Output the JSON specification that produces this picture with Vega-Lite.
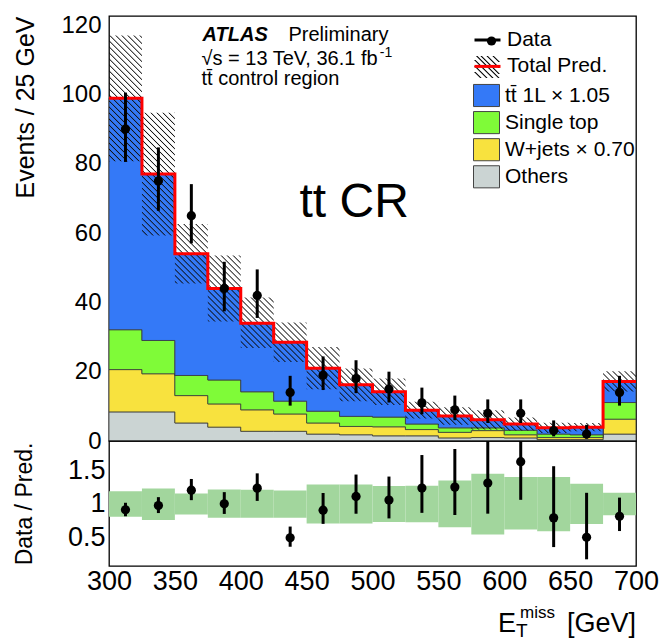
{
  "$schema": "https://vega.github.io/schema/vega-lite/v6.json",
  "background": "white",
  "padding": {"left": 12, "top": 12, "right": 10, "bottom": 4},
  "spacing": 0,
  "bounds": "flush",
  "config": {
    "font": "Liberation Sans",
    "view": {"stroke": "#000", "strokeWidth": 1.3},
    "axis": {
      "domain": false, "ticks": false, "tickSize": 0, "grid": false, "zindex": 1,
      "labelColor": "#000", "titleColor": "#000", "labelFont": "Liberation Sans", "titleFont": "Liberation Sans",
      "titleFontWeight": "normal", "labelFlush": false, "labelOverlap": false, "labelBound": false
    },
    "legend": {"labelFont": "Liberation Sans", "labelColor": "#000", "labelFontSize": 21, "padding": 0, "orient": "none"}
  },
  "resolve": {"scale": {"fill": "independent", "stroke": "independent", "shape": "independent", "opacity": "independent"}},
  "datasets": {
    "bins": [
      {"lo": 300, "hi": 325, "mid": 312.5, "others": 8.4, "wjets": 12.2, "single": 11.5, "ttbar": 66.8, "ulo": 80.7, "uhi": 117.0, "n": 90, "nlo": 80.5, "nhi": 100.5, "r": 0.91, "rlo": 0.814, "rhi": 1.016, "blo": 0.805, "bhi": 1.19},
      {"lo": 325, "hi": 350, "mid": 337.5, "others": 8.4, "wjets": 11.0, "single": 9.6, "ttbar": 48.0, "ulo": 59.3, "uhi": 94.7, "n": 75, "nlo": 66.4, "nhi": 84.7, "r": 0.974, "rlo": 0.862, "rhi": 1.1, "blo": 0.76, "bhi": 1.23},
      {"lo": 350, "hi": 375, "mid": 362.5, "others": 5.2, "wjets": 7.9, "single": 5.8, "ttbar": 35.1, "ulo": 45.4, "uhi": 62.6, "n": 65, "nlo": 57.0, "nhi": 74.1, "r": 1.204, "rlo": 1.055, "rhi": 1.372, "blo": 0.84, "bhi": 1.155},
      {"lo": 375, "hi": 400, "mid": 387.5, "others": 4.0, "wjets": 6.7, "single": 6.9, "ttbar": 26.4, "ulo": 34.5, "uhi": 53.5, "n": 44, "nlo": 37.4, "nhi": 51.7, "r": 1.0, "rlo": 0.849, "rhi": 1.175, "blo": 0.79, "bhi": 1.215},
      {"lo": 400, "hi": 425, "mid": 412.5, "others": 2.8, "wjets": 6.2, "single": 5.2, "ttbar": 19.8, "ulo": 26.8, "uhi": 41.4, "n": 42, "nlo": 35.5, "nhi": 49.5, "r": 1.235, "rlo": 1.044, "rhi": 1.456, "blo": 0.79, "bhi": 1.21},
      {"lo": 425, "hi": 450, "mid": 437.5, "others": 2.8, "wjets": 5.0, "single": 3.7, "ttbar": 17.0, "ulo": 22.8, "uhi": 34.2, "n": 14, "nlo": 10.2, "nhi": 18.8, "r": 0.491, "rlo": 0.358, "rhi": 0.66, "blo": 0.79, "bhi": 1.2},
      {"lo": 450, "hi": 475, "mid": 462.5, "others": 2.0, "wjets": 3.2, "single": 3.4, "ttbar": 12.4, "ulo": 14.9, "uhi": 27.1, "n": 19, "nlo": 14.7, "nhi": 24.4, "r": 0.905, "rlo": 0.7, "rhi": 1.162, "blo": 0.705, "bhi": 1.29},
      {"lo": 475, "hi": 500, "mid": 487.5, "others": 1.8, "wjets": 2.4, "single": 2.9, "ttbar": 9.1, "ulo": 11.5, "uhi": 20.9, "n": 18, "nlo": 13.8, "nhi": 23.3, "r": 1.111, "rlo": 0.852, "rhi": 1.438, "blo": 0.705, "bhi": 1.29},
      {"lo": 500, "hi": 525, "mid": 512.5, "others": 1.5, "wjets": 2.6, "single": 2.8, "ttbar": 7.3, "ulo": 10.4, "uhi": 18.0, "n": 15, "nlo": 11.1, "nhi": 20.0, "r": 1.056, "rlo": 0.782, "rhi": 1.408, "blo": 0.73, "bhi": 1.265},
      {"lo": 525, "hi": 550, "mid": 537.5, "others": 1.5, "wjets": 1.8, "single": 1.6, "ttbar": 4.0, "ulo": 6.5, "uhi": 11.3, "n": 11, "nlo": 7.7, "nhi": 15.4, "r": 1.236, "rlo": 0.865, "rhi": 1.73, "blo": 0.725, "bhi": 1.27},
      {"lo": 550, "hi": 575, "mid": 562.5, "others": 0.9, "wjets": 1.6, "single": 1.3, "ttbar": 3.4, "ulo": 4.7, "uhi": 9.7, "n": 9, "nlo": 6.0, "nhi": 13.1, "r": 1.25, "rlo": 0.833, "rhi": 1.82, "blo": 0.65, "bhi": 1.35},
      {"lo": 575, "hi": 600, "mid": 587.5, "others": 1.0, "wjets": 2.0, "single": 0.8, "ttbar": 2.3, "ulo": 3.3, "uhi": 8.9, "n": 8, "nlo": 5.2, "nhi": 12.0, "r": 1.31, "rlo": 0.853, "rhi": 1.97, "blo": 0.54, "bhi": 1.45},
      {"lo": 600, "hi": 625, "mid": 612.5, "others": 0.9, "wjets": 0.9, "single": 1.3, "ttbar": 1.8, "ulo": 3.0, "uhi": 6.8, "n": 8, "nlo": 5.2, "nhi": 12.0, "r": 1.63, "rlo": 1.06, "rhi": 2.45, "blo": 0.615, "bhi": 1.4},
      {"lo": 625, "hi": 650, "mid": 637.5, "others": 0.4, "wjets": 0.6, "single": 1.0, "ttbar": 1.8, "ulo": 2.3, "uhi": 5.3, "n": 3, "nlo": 1.34, "nhi": 5.94, "r": 0.79, "rlo": 0.353, "rhi": 1.563, "blo": 0.59, "bhi": 1.4},
      {"lo": 650, "hi": 675, "mid": 662.5, "others": 0.4, "wjets": 0.6, "single": 0.8, "ttbar": 2.2, "ulo": 2.8, "uhi": 5.2, "n": 2, "nlo": 0.68, "nhi": 4.66, "r": 0.5, "rlo": 0.17, "rhi": 1.165, "blo": 0.7, "bhi": 1.3},
      {"lo": 675, "hi": 700, "mid": 687.5, "others": 2.0, "wjets": 4.3, "single": 4.8, "ttbar": 6.1, "ulo": 14.3, "uhi": 20.1, "n": 14, "nlo": 10.2, "nhi": 18.8, "r": 0.814, "rlo": 0.593, "rhi": 1.093, "blo": 0.83, "bhi": 1.165}
    ]
  },
  "vconcat": [
    {
      "width": 527,
      "height": 425,
      "resolve": {"axis": {"x": "independent", "y": "independent"}},
      "layer": [
        {
          "data": {"name": "bins"},
          "transform": [
            {"fold": ["others", "wjets", "single", "ttbar"], "as": ["proc", "yield"]},
            {"window": [{"op": "row_number", "as": "k"}], "groupby": ["lo"]},
            {"stack": "yield", "groupby": ["lo"], "sort": [{"field": "k", "order": "ascending"}], "as": ["s0", "s1"]},
            {"fold": ["lo", "hi"], "as": ["edge", "ex"]}
          ],
          "mark": {"type": "area", "stroke": "#3a3a3a", "strokeWidth": 0.8},
          "encoding": {
            "x": {
              "field": "ex", "type": "quantitative", "scale": {"domain": [300, 700], "nice": false, "zero": false},
              "axis": null
            },
            "y": {
              "field": "s1", "type": "quantitative", "scale": {"domain": [0, 122.6], "nice": false, "zero": false},
              "axis": {
                "orient": "left", "title": "Events / 25 GeV", "titleFontSize": 25, "titleAnchor": "end", "titleX": -71,
                "values": [0, 20, 40, 60, 80, 100, 120], "format": "d", "labelFontSize": 24, "labelPadding": 8
              }
            },
            "y2": {"field": "s0"},
            "order": [{"field": "lo"}, {"field": "ex"}],
            "fill": {
              "field": "proc", "type": "nominal",
              "scale": {"domain": ["ttbar", "single", "wjets", "others"], "range": ["#3479f7", "#7ffb38", "#f8e23e", "#cbd4d3"]},
              "legend": {
                "legendX": 364, "legendY": 66, "title": null, "zindex": 1,
                "labelOffset": 5, "rowPadding": 0.1, "symbolSize": 676, "labelLimit": 300,
                "symbolType": "M-1,-0.85H1V0.85H-1Z", "symbolStrokeColor": "#444", "symbolStrokeWidth": 1, "symbolOpacity": 1,
                "labelExpr": "datum.value === 'ttbar' ? 'tt\u0304 1L \u00d7 1.05' : datum.value === 'single' ? 'Single top' : datum.value === 'wjets' ? 'W+jets \u00d7 0.70' : 'Others'"
              }
            }
          }
        },
        {
          "data": {"name": "bins"},
          "transform": [{"fold": ["lo", "hi"], "as": ["edge", "ex"]}],
          "mark": {"type": "area", "fill": {"gradient": "linear", "x1": 0, "y1": 1, "x2": 0.909, "y2": 0.316, "stops": [
            {"offset": 0, "color": "#0000"}, {"offset": 0.0015, "color": "#111"}, {"offset": 0.003, "color": "#0000"},
            {"offset": 0.008, "color": "#0000"}, {"offset": 0.0095, "color": "#111"}, {"offset": 0.011, "color": "#0000"},
            {"offset": 0.016, "color": "#0000"}, {"offset": 0.0175, "color": "#111"}, {"offset": 0.019, "color": "#0000"},
            {"offset": 0.024, "color": "#0000"}, {"offset": 0.0255, "color": "#111"}, {"offset": 0.027, "color": "#0000"},
            {"offset": 0.032, "color": "#0000"}, {"offset": 0.0335, "color": "#111"}, {"offset": 0.035, "color": "#0000"},
            {"offset": 0.04, "color": "#0000"}, {"offset": 0.0415, "color": "#111"}, {"offset": 0.043, "color": "#0000"},
            {"offset": 0.048, "color": "#0000"}, {"offset": 0.0495, "color": "#111"}, {"offset": 0.051, "color": "#0000"},
            {"offset": 0.056, "color": "#0000"}, {"offset": 0.0575, "color": "#111"}, {"offset": 0.059, "color": "#0000"},
            {"offset": 0.064, "color": "#0000"}, {"offset": 0.0655, "color": "#111"}, {"offset": 0.067, "color": "#0000"},
            {"offset": 0.072, "color": "#0000"}, {"offset": 0.0735, "color": "#111"}, {"offset": 0.075, "color": "#0000"},
            {"offset": 0.08, "color": "#0000"}, {"offset": 0.0815, "color": "#111"}, {"offset": 0.083, "color": "#0000"},
            {"offset": 0.088, "color": "#0000"}, {"offset": 0.0895, "color": "#111"}, {"offset": 0.091, "color": "#0000"},
            {"offset": 0.096, "color": "#0000"}, {"offset": 0.0975, "color": "#111"}, {"offset": 0.099, "color": "#0000"},
            {"offset": 0.104, "color": "#0000"}, {"offset": 0.1055, "color": "#111"}, {"offset": 0.107, "color": "#0000"},
            {"offset": 0.112, "color": "#0000"}, {"offset": 0.1135, "color": "#111"}, {"offset": 0.115, "color": "#0000"},
            {"offset": 0.12, "color": "#0000"}, {"offset": 0.1215, "color": "#111"}, {"offset": 0.123, "color": "#0000"},
            {"offset": 0.128, "color": "#0000"}, {"offset": 0.1295, "color": "#111"}, {"offset": 0.131, "color": "#0000"},
            {"offset": 0.136, "color": "#0000"}, {"offset": 0.1375, "color": "#111"}, {"offset": 0.139, "color": "#0000"},
            {"offset": 0.144, "color": "#0000"}, {"offset": 0.1455, "color": "#111"}, {"offset": 0.147, "color": "#0000"},
            {"offset": 0.152, "color": "#0000"}, {"offset": 0.1535, "color": "#111"}, {"offset": 0.155, "color": "#0000"},
            {"offset": 0.16, "color": "#0000"}, {"offset": 0.1615, "color": "#111"}, {"offset": 0.163, "color": "#0000"},
            {"offset": 0.168, "color": "#0000"}, {"offset": 0.1695, "color": "#111"}, {"offset": 0.171, "color": "#0000"},
            {"offset": 0.176, "color": "#0000"}, {"offset": 0.1775, "color": "#111"}, {"offset": 0.179, "color": "#0000"},
            {"offset": 0.184, "color": "#0000"}, {"offset": 0.1855, "color": "#111"}, {"offset": 0.187, "color": "#0000"},
            {"offset": 0.192, "color": "#0000"}, {"offset": 0.1935, "color": "#111"}, {"offset": 0.195, "color": "#0000"},
            {"offset": 0.2, "color": "#0000"}, {"offset": 0.2015, "color": "#111"}, {"offset": 0.203, "color": "#0000"},
            {"offset": 0.208, "color": "#0000"}, {"offset": 0.2095, "color": "#111"}, {"offset": 0.211, "color": "#0000"},
            {"offset": 0.216, "color": "#0000"}, {"offset": 0.2175, "color": "#111"}, {"offset": 0.219, "color": "#0000"},
            {"offset": 0.224, "color": "#0000"}, {"offset": 0.2255, "color": "#111"}, {"offset": 0.227, "color": "#0000"},
            {"offset": 0.232, "color": "#0000"}, {"offset": 0.2335, "color": "#111"}, {"offset": 0.235, "color": "#0000"},
            {"offset": 0.24, "color": "#0000"}, {"offset": 0.2415, "color": "#111"}, {"offset": 0.243, "color": "#0000"},
            {"offset": 0.248, "color": "#0000"}, {"offset": 0.2495, "color": "#111"}, {"offset": 0.251, "color": "#0000"},
            {"offset": 0.256, "color": "#0000"}, {"offset": 0.2575, "color": "#111"}, {"offset": 0.259, "color": "#0000"},
            {"offset": 0.264, "color": "#0000"}, {"offset": 0.2655, "color": "#111"}, {"offset": 0.267, "color": "#0000"},
            {"offset": 0.272, "color": "#0000"}, {"offset": 0.2735, "color": "#111"}, {"offset": 0.275, "color": "#0000"},
            {"offset": 0.28, "color": "#0000"}, {"offset": 0.2815, "color": "#111"}, {"offset": 0.283, "color": "#0000"},
            {"offset": 0.288, "color": "#0000"}, {"offset": 0.2895, "color": "#111"}, {"offset": 0.291, "color": "#0000"},
            {"offset": 0.296, "color": "#0000"}, {"offset": 0.2975, "color": "#111"}, {"offset": 0.299, "color": "#0000"},
            {"offset": 0.304, "color": "#0000"}, {"offset": 0.3055, "color": "#111"}, {"offset": 0.307, "color": "#0000"},
            {"offset": 0.312, "color": "#0000"}, {"offset": 0.3135, "color": "#111"}, {"offset": 0.315, "color": "#0000"},
            {"offset": 0.32, "color": "#0000"}, {"offset": 0.3215, "color": "#111"}, {"offset": 0.323, "color": "#0000"},
            {"offset": 0.328, "color": "#0000"}, {"offset": 0.3295, "color": "#111"}, {"offset": 0.331, "color": "#0000"},
            {"offset": 0.336, "color": "#0000"}, {"offset": 0.3375, "color": "#111"}, {"offset": 0.339, "color": "#0000"},
            {"offset": 0.344, "color": "#0000"}, {"offset": 0.3455, "color": "#111"}, {"offset": 0.347, "color": "#0000"},
            {"offset": 0.352, "color": "#0000"}, {"offset": 0.3535, "color": "#111"}, {"offset": 0.355, "color": "#0000"},
            {"offset": 0.36, "color": "#0000"}, {"offset": 0.3615, "color": "#111"}, {"offset": 0.363, "color": "#0000"},
            {"offset": 0.368, "color": "#0000"}, {"offset": 0.3695, "color": "#111"}, {"offset": 0.371, "color": "#0000"},
            {"offset": 0.376, "color": "#0000"}, {"offset": 0.3775, "color": "#111"}, {"offset": 0.379, "color": "#0000"},
            {"offset": 0.384, "color": "#0000"}, {"offset": 0.3855, "color": "#111"}, {"offset": 0.387, "color": "#0000"},
            {"offset": 0.392, "color": "#0000"}, {"offset": 0.3935, "color": "#111"}, {"offset": 0.395, "color": "#0000"},
            {"offset": 0.4, "color": "#0000"}, {"offset": 0.4015, "color": "#111"}, {"offset": 0.403, "color": "#0000"},
            {"offset": 0.408, "color": "#0000"}, {"offset": 0.4095, "color": "#111"}, {"offset": 0.411, "color": "#0000"},
            {"offset": 0.416, "color": "#0000"}, {"offset": 0.4175, "color": "#111"}, {"offset": 0.419, "color": "#0000"},
            {"offset": 0.424, "color": "#0000"}, {"offset": 0.4255, "color": "#111"}, {"offset": 0.427, "color": "#0000"},
            {"offset": 0.432, "color": "#0000"}, {"offset": 0.4335, "color": "#111"}, {"offset": 0.435, "color": "#0000"},
            {"offset": 0.44, "color": "#0000"}, {"offset": 0.4415, "color": "#111"}, {"offset": 0.443, "color": "#0000"},
            {"offset": 0.448, "color": "#0000"}, {"offset": 0.4495, "color": "#111"}, {"offset": 0.451, "color": "#0000"},
            {"offset": 0.456, "color": "#0000"}, {"offset": 0.4575, "color": "#111"}, {"offset": 0.459, "color": "#0000"},
            {"offset": 0.464, "color": "#0000"}, {"offset": 0.4655, "color": "#111"}, {"offset": 0.467, "color": "#0000"},
            {"offset": 0.472, "color": "#0000"}, {"offset": 0.4735, "color": "#111"}, {"offset": 0.475, "color": "#0000"},
            {"offset": 0.48, "color": "#0000"}, {"offset": 0.4815, "color": "#111"}, {"offset": 0.483, "color": "#0000"},
            {"offset": 0.488, "color": "#0000"}, {"offset": 0.4895, "color": "#111"}, {"offset": 0.491, "color": "#0000"},
            {"offset": 0.496, "color": "#0000"}, {"offset": 0.4975, "color": "#111"}, {"offset": 0.499, "color": "#0000"},
            {"offset": 0.504, "color": "#0000"}, {"offset": 0.5055, "color": "#111"}, {"offset": 0.507, "color": "#0000"},
            {"offset": 0.512, "color": "#0000"}, {"offset": 0.5135, "color": "#111"}, {"offset": 0.515, "color": "#0000"},
            {"offset": 0.52, "color": "#0000"}, {"offset": 0.5215, "color": "#111"}, {"offset": 0.523, "color": "#0000"},
            {"offset": 0.528, "color": "#0000"}, {"offset": 0.5295, "color": "#111"}, {"offset": 0.531, "color": "#0000"},
            {"offset": 0.536, "color": "#0000"}, {"offset": 0.5375, "color": "#111"}, {"offset": 0.539, "color": "#0000"},
            {"offset": 0.544, "color": "#0000"}, {"offset": 0.5455, "color": "#111"}, {"offset": 0.547, "color": "#0000"},
            {"offset": 0.552, "color": "#0000"}, {"offset": 0.5535, "color": "#111"}, {"offset": 0.555, "color": "#0000"},
            {"offset": 0.56, "color": "#0000"}, {"offset": 0.5615, "color": "#111"}, {"offset": 0.563, "color": "#0000"},
            {"offset": 0.568, "color": "#0000"}, {"offset": 0.5695, "color": "#111"}, {"offset": 0.571, "color": "#0000"},
            {"offset": 0.576, "color": "#0000"}, {"offset": 0.5775, "color": "#111"}, {"offset": 0.579, "color": "#0000"},
            {"offset": 0.584, "color": "#0000"}, {"offset": 0.5855, "color": "#111"}, {"offset": 0.587, "color": "#0000"},
            {"offset": 0.592, "color": "#0000"}, {"offset": 0.5935, "color": "#111"}, {"offset": 0.595, "color": "#0000"},
            {"offset": 0.6, "color": "#0000"}, {"offset": 0.6015, "color": "#111"}, {"offset": 0.603, "color": "#0000"},
            {"offset": 0.608, "color": "#0000"}, {"offset": 0.6095, "color": "#111"}, {"offset": 0.611, "color": "#0000"},
            {"offset": 0.616, "color": "#0000"}, {"offset": 0.6175, "color": "#111"}, {"offset": 0.619, "color": "#0000"},
            {"offset": 0.624, "color": "#0000"}, {"offset": 0.6255, "color": "#111"}, {"offset": 0.627, "color": "#0000"},
            {"offset": 0.632, "color": "#0000"}, {"offset": 0.6335, "color": "#111"}, {"offset": 0.635, "color": "#0000"},
            {"offset": 0.64, "color": "#0000"}, {"offset": 0.6415, "color": "#111"}, {"offset": 0.643, "color": "#0000"},
            {"offset": 0.648, "color": "#0000"}, {"offset": 0.6495, "color": "#111"}, {"offset": 0.651, "color": "#0000"},
            {"offset": 0.656, "color": "#0000"}, {"offset": 0.6575, "color": "#111"}, {"offset": 0.659, "color": "#0000"},
            {"offset": 0.664, "color": "#0000"}, {"offset": 0.6655, "color": "#111"}, {"offset": 0.667, "color": "#0000"},
            {"offset": 0.672, "color": "#0000"}, {"offset": 0.6735, "color": "#111"}, {"offset": 0.675, "color": "#0000"},
            {"offset": 0.68, "color": "#0000"}, {"offset": 0.6815, "color": "#111"}, {"offset": 0.683, "color": "#0000"},
            {"offset": 0.688, "color": "#0000"}, {"offset": 0.6895, "color": "#111"}, {"offset": 0.691, "color": "#0000"},
            {"offset": 0.696, "color": "#0000"}, {"offset": 0.6975, "color": "#111"}, {"offset": 0.699, "color": "#0000"},
            {"offset": 0.704, "color": "#0000"}, {"offset": 0.7055, "color": "#111"}, {"offset": 0.707, "color": "#0000"},
            {"offset": 0.712, "color": "#0000"}, {"offset": 0.7135, "color": "#111"}, {"offset": 0.715, "color": "#0000"},
            {"offset": 0.72, "color": "#0000"}, {"offset": 0.7215, "color": "#111"}, {"offset": 0.723, "color": "#0000"},
            {"offset": 0.728, "color": "#0000"}, {"offset": 0.7295, "color": "#111"}, {"offset": 0.731, "color": "#0000"},
            {"offset": 0.736, "color": "#0000"}, {"offset": 0.7375, "color": "#111"}, {"offset": 0.739, "color": "#0000"},
            {"offset": 0.744, "color": "#0000"}, {"offset": 0.7455, "color": "#111"}, {"offset": 0.747, "color": "#0000"},
            {"offset": 0.752, "color": "#0000"}, {"offset": 0.7535, "color": "#111"}, {"offset": 0.755, "color": "#0000"},
            {"offset": 0.76, "color": "#0000"}, {"offset": 0.7615, "color": "#111"}, {"offset": 0.763, "color": "#0000"},
            {"offset": 0.768, "color": "#0000"}, {"offset": 0.7695, "color": "#111"}, {"offset": 0.771, "color": "#0000"},
            {"offset": 0.776, "color": "#0000"}, {"offset": 0.7775, "color": "#111"}, {"offset": 0.779, "color": "#0000"},
            {"offset": 0.784, "color": "#0000"}, {"offset": 0.7855, "color": "#111"}, {"offset": 0.787, "color": "#0000"},
            {"offset": 0.792, "color": "#0000"}, {"offset": 0.7935, "color": "#111"}, {"offset": 0.795, "color": "#0000"},
            {"offset": 0.8, "color": "#0000"}, {"offset": 0.8015, "color": "#111"}, {"offset": 0.803, "color": "#0000"},
            {"offset": 0.808, "color": "#0000"}, {"offset": 0.8095, "color": "#111"}, {"offset": 0.811, "color": "#0000"},
            {"offset": 0.816, "color": "#0000"}, {"offset": 0.8175, "color": "#111"}, {"offset": 0.819, "color": "#0000"},
            {"offset": 0.824, "color": "#0000"}, {"offset": 0.8255, "color": "#111"}, {"offset": 0.827, "color": "#0000"},
            {"offset": 0.832, "color": "#0000"}, {"offset": 0.8335, "color": "#111"}, {"offset": 0.835, "color": "#0000"}
          ]}},
          "encoding": {
            "x": {"field": "ex", "type": "quantitative", "axis": null},
            "y": {"field": "ulo", "type": "quantitative", "axis": null},
            "y2": {"field": "uhi"},
            "order": [{"field": "lo"}, {"field": "ex"}]
          }
        },
        {
          "data": {"name": "bins"},
          "transform": [
            {"fold": ["others", "wjets", "single", "ttbar"], "as": ["proc", "yield"]},
            {"aggregate": [{"op": "sum", "field": "yield", "as": "total"}], "groupby": ["lo", "hi"]},
            {"fold": ["lo", "hi"], "as": ["edge", "ex"]}
          ],
          "mark": {"type": "line", "strokeWidth": 3, "strokeJoin": "miter"},
          "encoding": {
            "x": {"field": "ex", "type": "quantitative", "axis": null},
            "y": {"field": "total", "type": "quantitative", "axis": null},
            "order": [{"field": "lo"}, {"field": "ex"}],
            "stroke": {"datum": "Total Pred.", "type": "nominal"}
          }
        },
        {
          "mark": {"type": "rule", "color": "#000", "strokeWidth": 2.5},
          "encoding": {"y": {"datum": 0, "type": "quantitative", "axis": null}}
        },
        {
          "data": {"name": "bins"},
          "mark": {"type": "rule", "strokeWidth": 3},
          "encoding": {
            "x": {"field": "mid", "type": "quantitative", "axis": null},
            "y": {"field": "nlo", "type": "quantitative", "axis": null},
            "y2": {"field": "nhi"},
            "stroke": {
              "datum": "Data", "type": "nominal",
              "scale": {"domain": ["Data", "Total Pred."], "range": ["#000000", "#ff0000"]},
              "legend": {
                "legendX": 364, "legendY": 9.5, "title": null, "zindex": 2, "labelOffset": 5, "rowPadding": 1.4,
                "symbolType": "stroke", "symbolSize": 676, "symbolStrokeWidth": 3, "labelLimit": 300
              }
            }
          }
        },
        {
          "data": {"name": "bins"},
          "mark": {"type": "point", "filled": true, "size": 85, "opacity": 1, "color": "#000"},
          "encoding": {
            "x": {"field": "mid", "type": "quantitative", "axis": null},
            "y": {"field": "n", "type": "quantitative", "axis": null},
            "shape": {
              "datum": "Data", "type": "nominal", "scale": {"domain": ["Data"], "range": ["circle"]},
              "legend": {
                "legendX": 372, "legendY": 14.5, "title": null, "zindex": 3, "labelExpr": "''",
                "symbolSize": 85, "symbolFillColor": "#000", "symbolStrokeColor": "#000", "symbolStrokeWidth": 0, "symbolOpacity": 1
              }
            }
          }
        },
        {
          "data": {"values": [{}]},
          "mark": {"type": "text", "text": "ATLAS", "fontSize": 20, "fontStyle": "italic", "fontWeight": "bold", "align": "left", "baseline": "alphabetic", "color": "#000"},
          "encoding": {"x": {"datum": 371, "type": "quantitative", "axis": null}, "y": {"datum": 115.4, "type": "quantitative", "axis": null}}
        },
        {
          "data": {"values": [{}]},
          "mark": {"type": "text", "text": "Preliminary", "fontSize": 20, "align": "left", "baseline": "alphabetic", "color": "#000"},
          "encoding": {"x": {"datum": 436.2, "type": "quantitative", "axis": null}, "y": {"datum": 115.4, "type": "quantitative", "axis": null}}
        },
        {
          "data": {"values": [{}]},
          "mark": {"type": "text", "text": "\u221as = 13 TeV, 36.1 fb", "fontSize": 20, "align": "left", "baseline": "alphabetic", "color": "#000"},
          "encoding": {"x": {"datum": 370.2, "type": "quantitative", "axis": null}, "y": {"datum": 108.5, "type": "quantitative", "axis": null}}
        },
        {
          "data": {"values": [{}]},
          "mark": {"type": "text", "text": "-1", "fontSize": 14, "align": "left", "baseline": "alphabetic", "color": "#000"},
          "encoding": {"x": {"datum": 505.5, "type": "quantitative", "axis": null}, "y": {"datum": 110.9, "type": "quantitative", "axis": null}}
        },
        {
          "data": {"values": [{}]},
          "mark": {"type": "text", "text": "tt\u0304 control region", "fontSize": 20, "align": "left", "baseline": "alphabetic", "color": "#000"},
          "encoding": {"x": {"datum": 370.2, "type": "quantitative", "axis": null}, "y": {"datum": 102.7, "type": "quantitative", "axis": null}}
        },
        {
          "data": {"values": [{}]},
          "mark": {"type": "text", "text": "tt CR", "fontSize": 48, "align": "left", "baseline": "alphabetic", "color": "#000"},
          "encoding": {
            "x": {"datum": 444.6, "type": "quantitative", "axis": null},
            "y": {"datum": 64.5, "type": "quantitative", "axis": null},
            "opacity": {
              "datum": "Total Pred.", "type": "nominal", "scale": {"domain": ["Total Pred."], "range": [1]},
              "legend": {
                "legendX": 364, "legendY": 37, "title": null, "zindex": 1, "labelExpr": "''", "symbolSize": 676,
                "symbolType": "M-1,0.38L-0.53,0.85L-0.41,0.85L-0.88,0.38ZM-1,-0.08L-0.07,0.85L0.05,0.85L-0.88,-0.08ZM-1,-0.54L0.39,0.85L0.51,0.85L-0.88,-0.54ZM-0.85,-0.85L0.85,0.85L0.97,0.85L-0.73,-0.85ZM-0.39,-0.85L1,0.54L0.88,0.54L-0.51,-0.85ZM0.07,-0.85L1,0.08L0.88,0.08L-0.05,-0.85ZM0.53,-0.85L1,-0.38L0.88,-0.38L0.41,-0.85Z"
              }
            }
          }
        }
      ]
    },
    {
      "width": 527,
      "height": 125,
      "layer": [
        {
          "data": {"name": "bins"},
          "mark": {"type": "rect", "color": "#a2d69d"},
          "encoding": {
            "x": {
              "field": "lo", "type": "quantitative", "scale": {"domain": [300, 700], "nice": false, "zero": false},
              "axis": {"orient": "bottom", "title": null, "format": "d", "labelFontSize": 27, "labelPadding": 2, "values": [300, 350, 400, 450, 500, 550, 600, 650, 700]}
            },
            "x2": {"field": "hi"},
            "y": {
              "field": "blo", "type": "quantitative", "scale": {"domain": [0.07, 1.94], "nice": false, "zero": false},
              "axis": {
                "orient": "left", "title": "Data / Pred.", "titleFontSize": 23, "titleAnchor": "middle", "titleX": -73,
                "values": [0.5, 1, 1.5], "labelFontSize": 27, "labelPadding": 4,
                "labelExpr": "datum.value === 0.5 ? '0.5' : datum.value === 1 ? '1' : '1.5'"
              }
            },
            "y2": {"field": "bhi"}
          }
        },
        {
          "mark": {"type": "rule", "color": "#ff0000", "strokeWidth": 3},
          "encoding": {"y": {"datum": 1, "type": "quantitative"}}
        },
        {
          "data": {"name": "bins"},
          "mark": {"type": "rule", "color": "#000", "strokeWidth": 3, "clip": true},
          "encoding": {
            "x": {"field": "mid", "type": "quantitative"},
            "y": {"field": "rlo", "type": "quantitative"},
            "y2": {"field": "rhi"}
          }
        },
        {
          "data": {"name": "bins"},
          "mark": {"type": "point", "filled": true, "size": 85, "color": "#000", "opacity": 1, "clip": true},
          "encoding": {
            "x": {"field": "mid", "type": "quantitative"},
            "y": {"field": "r", "type": "quantitative"}
          }
        },
        {
          "data": {"values": [{}]},
          "mark": {"type": "text", "text": "[GeV]", "fontSize": 27, "align": "right", "baseline": "alphabetic", "color": "#000"},
          "encoding": {"x": {"datum": 700, "type": "quantitative"}, "y": {"datum": -0.91, "type": "quantitative"}}
        },
        {
          "data": {"values": [{}]},
          "mark": {"type": "text", "text": "E", "fontSize": 27, "align": "right", "baseline": "alphabetic", "dx": -120, "color": "#000"},
          "encoding": {"x": {"datum": 700, "type": "quantitative"}, "y": {"datum": -0.91, "type": "quantitative"}}
        },
        {
          "data": {"values": [{}]},
          "mark": {"type": "text", "text": "T", "fontSize": 19, "align": "left", "baseline": "alphabetic", "dx": -120, "color": "#000"},
          "encoding": {"x": {"datum": 700, "type": "quantitative"}, "y": {"datum": -0.99, "type": "quantitative"}}
        },
        {
          "data": {"values": [{}]},
          "mark": {"type": "text", "text": "miss", "fontSize": 17, "align": "right", "baseline": "alphabetic", "dx": -81, "color": "#000"},
          "encoding": {"x": {"datum": 700, "type": "quantitative"}, "y": {"datum": -0.715, "type": "quantitative"}}
        }
      ]
    }
  ]
}
